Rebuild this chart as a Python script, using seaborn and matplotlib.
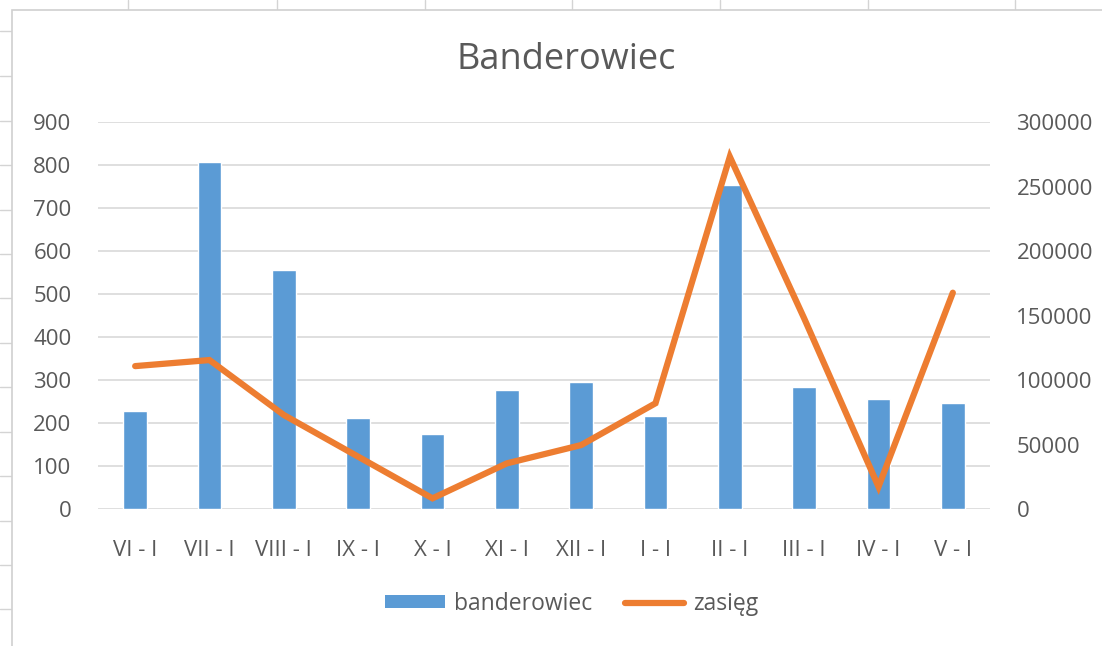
import numpy as np
import pandas as pd
import seaborn as sns
import matplotlib.pyplot as plt
from matplotlib.patches import Patch, Rectangle
from matplotlib.lines import Line2D

sns.set_style("white")
plt.rcParams['font.family'] = ['Open Sans', 'DejaVu Sans']

# data
categories = ["VI - I", "VII - I", "VIII - I", "IX - I", "X - I", "XI - I",
              "XII - I", "I - I", "II - I", "III - I", "IV - I", "V - I"]
banderowiec = [229, 808, 556, 212, 176, 278, 296, 216, 754, 284, 257, 247]
zasieg = [111000, 115700, 73100, 40800, 8500, 35600, 49800, 82200,
          273300, 148000, 17500, 167900]
left_ticks = list(range(0, 1000, 100))
right_ticks = list(range(0, 350000, 50000))

BLUE = "#5B9BD5"
ORANGE = "#ED7D31"
GREY = "#595959"
W, H = 1102, 646
FS = 16

fig = plt.figure(figsize=(W / 100, H / 100), dpi=100)

# spreadsheet cells behind the chart
for x in [128, 277, 425, 572, 720, 868, 1015]:
    fig.add_artist(Line2D([x / W, x / W], [1 - 10 / H, 1], color="#D4D4D4", lw=1, zorder=-3))
for y in [31, 76, 121, 165, 210, 254, 298, 343, 387, 432, 476, 521, 565, 609]:
    fig.add_artist(Line2D([0, 12 / W], [1 - y / H, 1 - y / H], color="#D4D4D4", lw=1, zorder=-3))
fig.add_artist(Rectangle((12 / W, -0.01), 1, 1 - 10 / H + 0.01, transform=fig.transFigure,
                         facecolor="white", edgecolor="#D0D0D0", lw=1.2, zorder=-2))

ax = fig.add_axes([98 / W, 1 - 509.3 / H, (990 - 98) / W, (509.3 - 122.3) / H])
ax.patch.set_alpha(0)
df = pd.DataFrame({"okres": categories, "banderowiec": banderowiec, "zasieg": zasieg})
sns.barplot(data=df, x="okres", y="banderowiec", color=BLUE, saturation=1,
            width=0.32, ax=ax)
ax.set_ylim(0, 900)
ax.set_xlim(-0.5, len(categories) - 0.5)
ax.set_yticks(left_ticks)
ax.set_xlabel("")
ax.set_ylabel("")
ax.grid(axis="y", color="#D9D9D9", lw=1.2)
ax.set_axisbelow(True)
ax.tick_params(axis="y", length=0, pad=19, labelsize=FS, labelcolor=GREY)
ax.tick_params(axis="x", length=0, pad=22, labelsize=FS, labelcolor=GREY)
for s in ax.spines.values():
    s.set_visible(False)

ax2 = ax.twinx()
sns.lineplot(data=df, x="okres", y="zasieg", color=ORANGE, lw=4.5, sort=False,
             ax=ax2, solid_capstyle="round", solid_joinstyle="miter")
ax2.set_ylim(0, 300000)
ax2.set_yticks(right_ticks)
ax2.set_ylabel("")
ax2.tick_params(axis="y", length=0, pad=19, labelsize=FS, labelcolor=GREY)
for s in ax2.spines.values():
    s.set_visible(False)

fig.text(566 / W, 1 - 60 / H, "Banderowiec", ha="center", va="center",
         fontsize=26, color=GREY)

handles = [Patch(facecolor=BLUE, edgecolor="none"),
           Line2D([], [], color=ORANGE, lw=4.5, solid_capstyle="round")]
fig.legend(handles, ["banderowiec", "zasięg"], loc="center",
           bbox_to_anchor=(572 / W, 1 - 604 / H), ncol=2, frameon=False,
           fontsize=16.5, labelcolor=GREY, handlelength=2.6, handleheight=0.5,
           handletextpad=0.4, columnspacing=1.4)

fig.savefig("out.png", dpi=100)
